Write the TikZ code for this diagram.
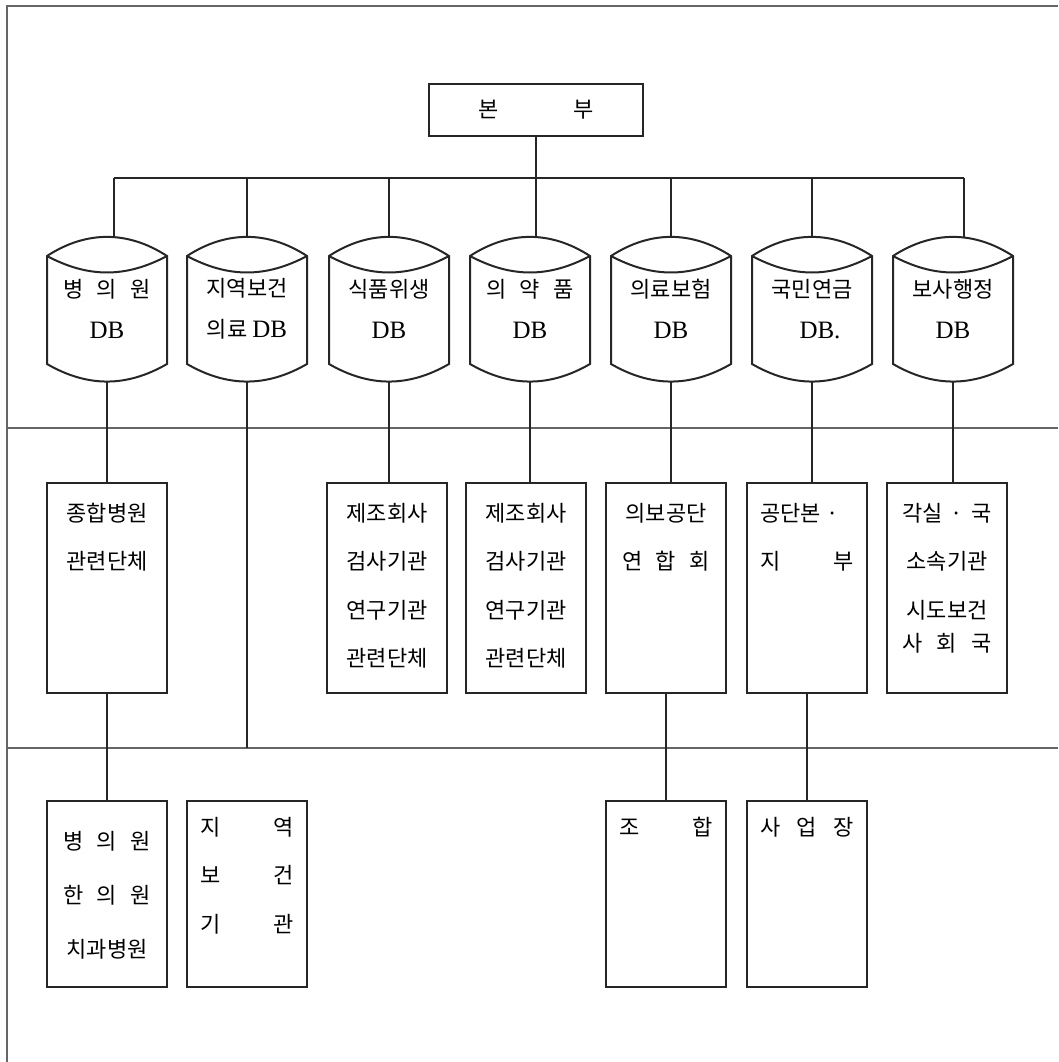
\documentclass[tikz,border=0pt]{standalone}
\usepackage{fontspec}
\setmainfont{Liberation Serif}
\newfontfamily\kr{Noto Sans CJK KR}
\newcommand{\spread}[2]{\makebox[#1][s]{#2}}
\newcommand{\dbtag}[1]{{\rmfamily\fontsize{25}{25}\selectfont #1}}
\newcommand{\dbdrum}[1]{%
  \draw ([yshift=-19pt]#1.north west) to[bend left=33] ([yshift=-19pt]#1.north east)
    -- ([yshift=17pt]#1.south east) to[bend left=30] ([yshift=17pt]#1.south west) -- cycle;
  \draw ([yshift=-19pt]#1.north west) to[bend right=28] ([yshift=-19pt]#1.north east);}

\begin{document}
\begin{tikzpicture}[x=1pt,y=1pt,line width=2pt,color=black!85,
  frame/.style={draw=black!60,line width=2pt},
  box/.style={draw,inner sep=0pt,minimum width=120pt},
  db/.style={inner sep=0pt,minimum width=118pt,minimum height=142pt,align=center,
    text=black,font=\kr\fontsize{22}{41}\selectfont},
  txt/.style={anchor=north,inner sep=0pt,align=center,text=black,
    font=\kr\fontsize{22}{48.5}\selectfont}]
\useasboundingbox (0,0) rectangle (1058,-1062);

% frame and tiers
\draw[frame] (1058,-6) -- (7,-6) -- (7,-1062);
\draw[frame] (7,-428) -- (1058,-428);
\draw[frame] (7,-748) -- (1058,-748);
\coordinate (bus) at (0,-178);
\coordinate (tier3) at (0,-748);

% head office
\node[box,minimum width=214pt,minimum height=52pt,text=black,font=\kr\fontsize{22}{26}\selectfont] (hq) at (536,-110) {\spread{116pt}{본 부}};

% databases
\node[db] (db1) at (107,-309) {\spread{88pt}{병 의 원}\\\dbtag{DB}};
\node[db] (db2) at (247,-309) {지역보건\\의료 \dbtag{DB}};
\node[db] (db3) at (389,-309) {식품위생\\\dbtag{DB}};
\node[db] (db4) at (530,-309) {\spread{88pt}{의 약 품}\\\dbtag{DB}};
\node[db] (db5) at (671,-309) {의료보험\\\dbtag{DB}};
\node[db] (db6) at (812,-309) {국민연금\\\hspace{16pt}\dbtag{DB.}};
\node[db] (db7) at (953,-309) {보사행정\\\dbtag{DB}};
\dbdrum{db1}
\dbdrum{db2}
\dbdrum{db3}
\dbdrum{db4}
\dbdrum{db5}
\dbdrum{db6}
\dbdrum{db7}

% second tier
\node[box,minimum height=210pt] (m1) at (107,-588) {};
\node[txt] (m1t) at ([yshift=-20pt]m1.north) {종합병원\\관련단체};
\node[box,minimum height=210pt] (m3) at (387,-588) {};
\node[txt] (m3t) at ([yshift=-20pt]m3.north) {제조회사\\검사기관\\연구기관\\관련단체};
\node[box,minimum height=210pt] (m4) at (526,-588) {};
\node[txt] (m4t) at ([yshift=-20pt]m4.north) {제조회사\\검사기관\\연구기관\\관련단체};
\node[box,minimum height=210pt] (m5) at (666,-588) {};
\node[txt] (m5t) at ([yshift=-20pt]m5.north) {의보공단\\\spread{88pt}{연 합 회}};
\node[box,minimum height=210pt] (m6) at (807,-588) {};
\node[txt] (m6t) at ([yshift=-20pt]m6.north) {\makebox[93pt][l]{공단본 ·}\\\spread{93pt}{지 부}};
\node[box,minimum height=210pt] (m7) at (947,-588) {};
\node[txt] (m7t) at ([yshift=-20pt]m7.north) {\spread{90pt}{각실 · 국}\\소속기관\\시도보건\\[-15pt]\spread{90pt}{사 회 국}};

% third tier
\node[box,minimum height=186pt] (b1) at (107,-894) {};
\node[txt,font=\kr\fontsize{22}{54}\selectfont] (b1t) at ([yshift=-30pt]b1.north) {\spread{88pt}{병 의 원}\\\spread{88pt}{한 의 원}\\치과병원};
\node[box,minimum height=186pt] (b2) at (247,-894) {};
\node[txt] (b2t) at ([yshift=-16pt]b2.north) {\spread{93pt}{지 역}\\\spread{93pt}{보 건}\\\spread{93pt}{기 관}};
\node[box,minimum height=186pt] (b5) at (666,-894) {};
\node[txt] (b5t) at ([yshift=-16pt]b5.north) {\spread{93pt}{조 합}};
\node[box,minimum height=186pt] (b6) at (807,-894) {};
\node[txt] (b6t) at ([yshift=-16pt]b6.north) {\spread{93pt}{사 업 장}};

% connectors
\draw (hq.south) -- (hq.south |- db4.north);
\draw ([xshift=7pt]db1.north |- bus) -- ([xshift=11pt]db7.north |- bus);
\draw ([xshift=7pt]db1.north) -- ([xshift=7pt]db1.north |- bus);
\draw (db2.north) -- (db2.north |- bus);
\draw (db3.north) -- (db3.north |- bus);
\draw (db5.north) -- (db5.north |- bus);
\draw (db6.north) -- (db6.north |- bus);
\draw ([xshift=11pt]db7.north) -- ([xshift=11pt]db7.north |- bus);
\draw (db1.south) -- (db1.south |- m1.north);
\draw (db2.south) -- (db2.south |- tier3);
\draw (db3.south) -- (db3.south |- m3.north);
\draw (db4.south) -- (db4.south |- m4.north);
\draw (db5.south) -- (db5.south |- m5.north);
\draw (db6.south) -- (db6.south |- m6.north);
\draw (db7.south) -- (db7.south |- m7.north);
\draw (m1.south) -- (m1.south |- b1.north);
\draw (m5.south) -- (m5.south |- b5.north);
\draw (m6.south) -- (m6.south |- b6.north);
\end{tikzpicture}
\end{document}
